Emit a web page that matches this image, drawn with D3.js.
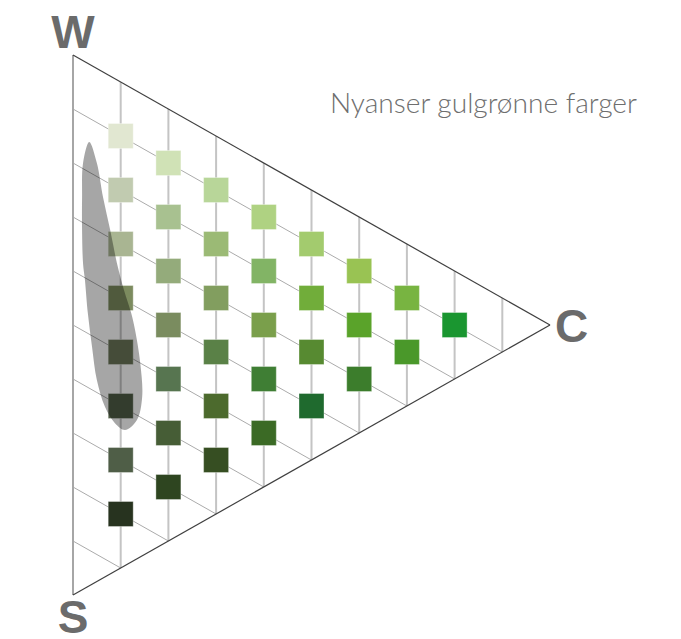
<!DOCTYPE html>
<html><head><meta charset="utf-8">
<script src="https://cdn.jsdelivr.net/npm/d3@7"></script>
<style>html,body{margin:0;padding:0;background:#fff;} svg{display:block;}</style>
</head><body>
<svg id="chart" width="681" height="639"></svg>
<script>
// ---- data ----
const cornerLabels = ["W", "S", "C"];           // whiteness, blackness, chromaticness corners
const cornerC = [0, 0, 1];
const cornerS = [0, 1, 0];
const titleText = "Nyanser gulgrønne farger";
const gridSteps = [0.1, 0.2, 0.3, 0.4, 0.5, 0.6, 0.7, 0.8, 0.9];

// swatches: chromaticness (c), blackness (s), colour
const swatchC = [
  0.1,0.1,0.1,0.1,0.1,0.1,0.1,0.1,
  0.2,0.2,0.2,0.2,0.2,0.2,0.2,
  0.3,0.3,0.3,0.3,0.3,0.3,
  0.4,0.4,0.4,0.4,0.4,
  0.5,0.5,0.5,0.5,
  0.6,0.6,0.6,
  0.7,0.7,
  0.8
];
const swatchS = [
  0.1,0.2,0.3,0.4,0.5,0.6,0.7,0.8,
  0.1,0.2,0.3,0.4,0.5,0.6,0.7,
  0.1,0.2,0.3,0.4,0.5,0.6,
  0.1,0.2,0.3,0.4,0.5,
  0.1,0.2,0.3,0.4,
  0.1,0.2,0.3,
  0.1,0.2,
  0.1
];
const swatchColors = [
  "#e1e7d1","#c1cbb0","#a9b592","#7c8b5f","#6a7658","#4f5c45","#4f5e47","#27331f",
  "#d0e2b6","#a8c190","#94ab7b","#7a8c5f","#577550","#465d36","#2e4520",
  "#b8d699","#9bba75","#829e5f","#5a8147","#4c6a2d","#364e22",
  "#afd282","#82b465","#7a9f4b","#3f7e34","#3b6a25",
  "#a3cb6e","#71ad3a","#578a31","#1f6a2e",
  "#99c353","#5aa32a","#3c7d2c",
  "#78b441","#4a982a",
  "#1a9630"
];

// highlighted region outline (in c, s triangle coordinates)
const highlightC = [0.034,0.050,0.063,0.078,0.092,0.107,0.122,0.130,0.141,0.145,0.134,0.109,
                    0.088,0.067,0.050,0.040,0.031,0.025,0.021,0.019,0.019,0.021];
const highlightS = [0.144,0.175,0.232,0.285,0.339,0.382,0.417,0.444,0.500,0.561,0.609,0.640,
                    0.638,0.618,0.577,0.521,0.462,0.404,0.375,0.315,0.254,0.190];

// ---- scales ----
const xScale = d3.scaleLinear().domain([0, 1]).range([73, 550]);     // chromaticness -> x
const tiltScale = d3.scaleLinear().domain([0, 1]).range([0, 270]);   // chromaticness -> y shift
const sScale = d3.scaleLinear().domain([0, 1]).range([55, 595]);     // blackness -> y
const pos = (c, s) => [xScale(c), sScale(s) + tiltScale(c)];

const svg = d3.select("#chart");
svg.append("rect").attr("width", 681).attr("height", 639).attr("fill", "#fff");

const g = svg.append("g");

// vertical (constant chromaticness) lines
g.selectAll("line.vgrid").data(gridSteps).join("line")
  .attr("class", "vgrid")
  .attr("x1", c => pos(c, 0)[0]).attr("y1", c => pos(c, 0)[1])
  .attr("x2", c => pos(c, 1 - c)[0]).attr("y2", c => pos(c, 1 - c)[1])
  .attr("stroke", "#c4c4c4").attr("stroke-width", 2);

// constant blackness lines (parallel to W-C)
g.selectAll("line.sgrid").data(gridSteps).join("line")
  .attr("class", "sgrid")
  .attr("x1", s => pos(0, s)[0]).attr("y1", s => pos(0, s)[1])
  .attr("x2", s => pos(1 - s, s)[0]).attr("y2", s => pos(1 - s, s)[1])
  .attr("stroke", "#ababab").attr("stroke-width", 1);

// outline
const W = pos(0, 0), S = pos(0, 1), C = pos(1, 0);
g.append("line").attr("x1", W[0]).attr("y1", W[1]).attr("x2", S[0]).attr("y2", S[1])
  .attr("stroke", "#a6a6a6").attr("stroke-width", 2);
g.append("line").attr("x1", W[0]).attr("y1", W[1]).attr("x2", C[0]).attr("y2", C[1])
  .attr("stroke", "#3f3f3f").attr("stroke-width", 1.2);
g.append("line").attr("x1", S[0]).attr("y1", S[1]).attr("x2", C[0]).attr("y2", C[1])
  .attr("stroke", "#3f3f3f").attr("stroke-width", 1.2);

// swatches
const size = 25;
const swatches = swatchC.map((c, i) => ({c, s: swatchS[i], color: swatchColors[i]}));
g.selectAll("rect.sw").data(swatches).join("rect")
  .attr("class", "sw")
  .attr("x", d => pos(d.c, d.s)[0] - size / 2)
  .attr("y", d => pos(d.c, d.s)[1] - size / 2)
  .attr("width", size).attr("height", size)
  .attr("fill", d => d.color)
  .attr("stroke", "rgba(255,255,255,0.35)").attr("stroke-width", 1);

// highlight region
const hl = highlightC.map((c, i) => pos(c, highlightS[i]));
g.append("path")
  .attr("d", d3.line().curve(d3.curveCatmullRomClosed.alpha(0.5))(hl))
  .attr("fill", "#000").attr("fill-opacity", 0.35);

// corner labels
const labelFont = "'Liberation Sans', Arial, Helvetica, sans-serif";
const labelAnchor = ["middle", "middle", "start"];
const labelDx = [0, 0, 5];
const labelDy = [-7, 38, 17];
svg.selectAll("text.corner").data(cornerLabels).join("text")
  .attr("class", "corner")
  .attr("x", (d, i) => pos(cornerC[i], cornerS[i])[0] + labelDx[i])
  .attr("y", (d, i) => pos(cornerC[i], cornerS[i])[1] + labelDy[i])
  .attr("text-anchor", (d, i) => labelAnchor[i])
  .attr("font-family", labelFont).attr("font-weight", "bold").attr("font-size", 46)
  .attr("fill", "#6b6b6b")
  .text(d => d);

// title
const t = svg.append("text")
  .attr("x", 330).attr("y", 113)
  .attr("font-family", "Lato, 'Open Sans', sans-serif").attr("font-weight", 300)
  .attr("font-size", 26).attr("fill", "#6e6e6e")
  .text(titleText);
const w = t.node().getComputedTextLength();
t.attr("font-size", 26 * 307 / w);
</script>
</body></html>
